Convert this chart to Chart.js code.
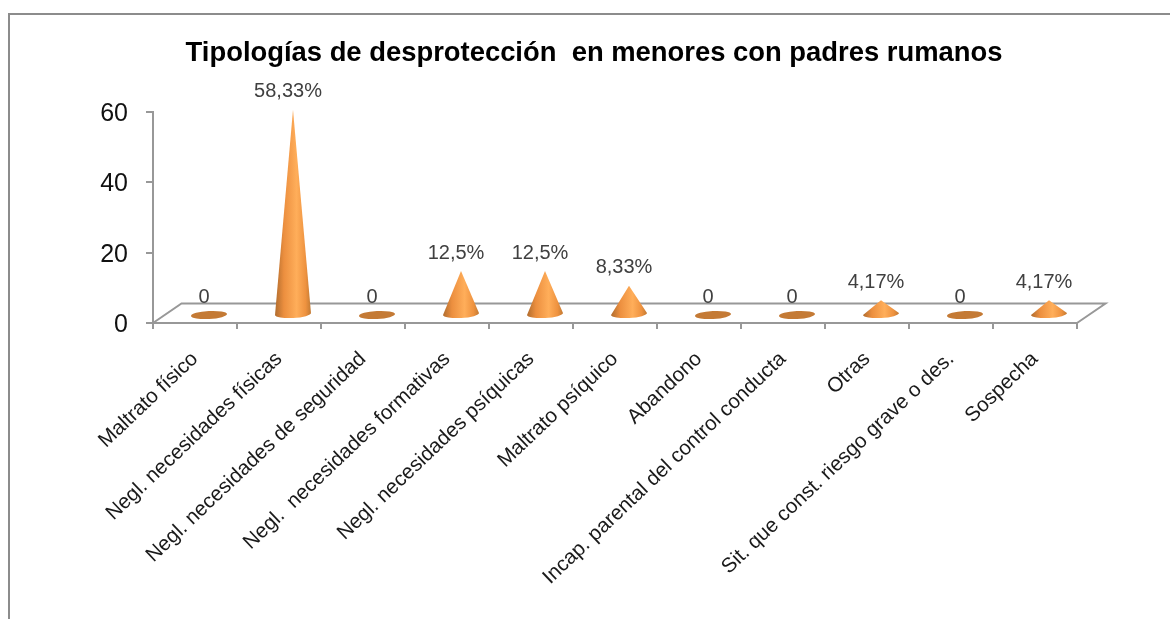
<!DOCTYPE html>
<html>
<head>
<meta charset="utf-8">
<title>Tipologías de desprotección</title>
<script src="https://cdn.jsdelivr.net/npm/chart.js@4"></script>
<style>
  html, body { margin: 0; padding: 0; background: #fff; }
  canvas { display: block; }
</style>
</head>
<body>
<canvas id="chart" width="1170" height="619"></canvas>
<script>
const categories = [
  "Maltrato físico",
  "Negl. necesidades físicas",
  "Negl. necesidades de seguridad",
  "Negl.  necesidades formativas",
  "Negl. necesidades psíquicas",
  "Maltrato psíquico",
  "Abandono",
  "Incap. parental del control conducta",
  "Otras",
  "Sit. que const. riesgo grave o des.",
  "Sospecha",
];
const values = [0, 58.33, 0, 12.5, 12.5, 8.33, 0, 0, 4.17, 0, 4.17];
const valueLabels = ["0", "58,33%", "0", "12,5%", "12,5%", "8,33%", "0", "0", "4,17%", "0", "4,17%"];
const yTicks = [0, 20, 40, 60];

const FONT = "'Liberation Sans', Arial, sans-serif";
const AXIS_GREY = "#989898";

// the fake 3d look: marks sit on a floor pushed back from the axis
const floorDepth = { x: 28.5, y: -19.5 };
const coneShift = { x: 14, y: -8 };
const coneRx = 18;
const coneRy = 4;
const tilt = -0.05;

const frame = {
  id: "frame",
  beforeDraw(chart) {
    const ctx = chart.ctx;
    ctx.save();
    ctx.strokeStyle = "#8c8c8c";
    ctx.lineWidth = 2;
    ctx.beginPath();
    ctx.moveTo(9, chart.height);
    ctx.lineTo(9, 14);
    ctx.lineTo(chart.width, 14);
    ctx.stroke();
    ctx.restore();
  },
  // title is centred a bit right of the plot box in the original
  afterLayout(chart) {
    chart.titleBlock.left += 10;
    chart.titleBlock.right += 10;
  },
};

const floor = {
  id: "floor",
  beforeDatasetsDraw(chart) {
    const { left, right, bottom } = chart.chartArea;
    const ctx = chart.ctx;
    ctx.save();
    ctx.strokeStyle = AXIS_GREY;
    ctx.lineWidth = 2;
    ctx.beginPath();
    ctx.moveTo(left, bottom);
    ctx.lineTo(left + floorDepth.x, bottom + floorDepth.y);
    ctx.lineTo(right + floorDepth.x, bottom + floorDepth.y);
    ctx.lineTo(right, bottom);
    ctx.stroke();
    ctx.restore();
  },
};

function drawCone(ctx, cx, base, tip) {
  if (base - tip < 1) {
    ctx.fillStyle = "#c47a35";
    ctx.beginPath();
    ctx.ellipse(cx, base, coneRx, coneRy, tilt, 0, Math.PI * 2);
    ctx.fill();
    return;
  }
  const grad = ctx.createLinearGradient(cx - coneRx, 0, cx + coneRx, 0);
  grad.addColorStop(0, "#b06c2e");
  grad.addColorStop(0.25, "#ec8f3f");
  grad.addColorStop(0.6, "#ffae5a");
  grad.addColorStop(0.85, "#ee923f");
  grad.addColorStop(1, "#c27a33");
  ctx.fillStyle = grad;
  ctx.beginPath();
  ctx.moveTo(cx, tip);
  ctx.ellipse(cx, base, coneRx, coneRy, tilt, 0, Math.PI);
  ctx.closePath();
  ctx.fill();
}

const cones = {
  id: "cones",
  afterDatasetsDraw(chart) {
    const ctx = chart.ctx;
    const bars = chart.getDatasetMeta(0).data;
    ctx.save();
    bars.forEach((bar) => {
      drawCone(ctx, bar.x + coneShift.x, bar.base + coneShift.y, bar.y + coneShift.y);
    });
    ctx.font = "20px " + FONT;
    ctx.fillStyle = "#404040";
    ctx.textAlign = "center";
    ctx.textBaseline = "middle";
    bars.forEach((bar, i) => {
      ctx.fillText(valueLabels[i], bar.x + 9, bar.y + coneShift.y - 18);
    });
    ctx.restore();
  },
};

new Chart(document.getElementById("chart"), {
  type: "bar",
  data: {
    labels: categories,
    datasets: [{ data: values, backgroundColor: "transparent", borderWidth: 0 }],
  },
  plugins: [frame, floor, cones],
  options: {
    responsive: false,
    animation: false,
    layout: {
      autoPadding: false,
      padding: { left: 91, right: 93, top: 0, bottom: 0 },
    },
    plugins: {
      legend: { display: false },
      tooltip: { enabled: false },
      title: {
        display: true,
        text: "Tipologías de desprotección  en menores con padres rumanos",
        color: "#000",
        font: { family: FONT, size: 27.4, weight: "bold", lineHeight: 1.2 },
        padding: { top: 37, bottom: 42.1 },
      },
    },
    scales: {
      x: {
        offset: true,
        border: { color: AXIS_GREY, width: 2 },
        grid: { drawOnChartArea: false, color: AXIS_GREY, lineWidth: 2, tickLength: 6 },
        ticks: {
          autoSkip: false,
          maxRotation: 43.5,
          minRotation: 43.5,
          color: "#1a1a1a",
          padding: 18,
          font: { family: FONT, size: 20.6 },
        },
        afterFit(scale) { scale.height = 296; },
      },
      y: {
        min: 0,
        max: 60,
        border: { color: AXIS_GREY, width: 2 },
        grid: { drawOnChartArea: false, color: AXIS_GREY, lineWidth: 2, tickLength: 7 },
        afterBuildTicks(scale) { scale.ticks = yTicks.map((v) => ({ value: v })); },
        ticks: {
          color: "#111",
          padding: 18,
          labelOffset: 2,
          font: { family: FONT, size: 25 },
        },
        afterFit(scale) { scale.width = 62; },
      },
    },
  },
});
</script>
</body>
</html>
